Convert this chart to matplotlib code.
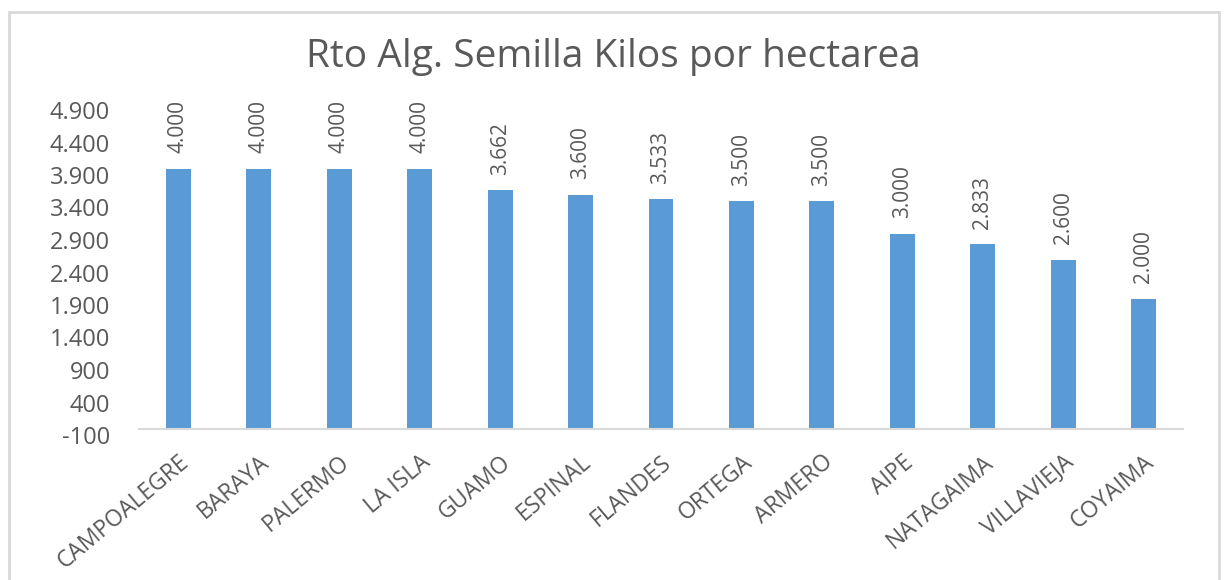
import matplotlib
matplotlib.use('Agg')
import matplotlib.pyplot as plt
from matplotlib.patches import Rectangle
from matplotlib.transforms import offset_copy

# datos
municipios = ['CAMPOALEGRE', 'BARAYA', 'PALERMO', 'LA ISLA', 'GUAMO', 'ESPINAL',
              'FLANDES', 'ORTEGA', 'ARMERO', 'AIPE', 'NATAGAIMA', 'VILLAVIEJA', 'COYAIMA']
rendimiento = [4000, 4000, 4000, 4000, 3662, 3600, 3533, 3500, 3500, 3000, 2833, 2600, 2000]
ticks_y = [-100, 400, 900, 1400, 1900, 2400, 2900, 3400, 3900, 4400, 4900]

def fmt(v):
    return f'{v:,.0f}'.replace(',', '.')

plt.rcParams['font.family'] = ['Open Sans', 'DejaVu Sans']
gris = '#595959'

fig = plt.figure(figsize=(12.27, 5.8), dpi=100)
ax = fig.add_axes([138 / 1227, 145 / 580, 1046 / 1227, 325 / 580])

x = list(range(len(municipios)))
ax.bar(x, rendimiento, width=0.31, color='#5B9BD5', zorder=2)

# etiquetas de datos
for xi, v in zip(x, rendimiento):
    ax.text(xi, v, fmt(v), rotation=90, ha='center', va='bottom',
            fontsize=15, color=gris,
            transform=offset_copy(ax.transData, fig=fig, x=0, y=11, units='points'))

ax.axhline(0, color='#D9D9D9', lw=1.5, zorder=3)
ax.set_xlim(-0.5, len(municipios) - 0.5)
ax.set_ylim(-100, 4900)
ax.set_yticks(ticks_y)
ax.set_yticklabels([fmt(t) for t in ticks_y], fontsize=17, color=gris)
ax.tick_params(axis='y', length=0, pad=20)

ax.set_xticks(x)
ax.set_xticklabels(municipios, rotation=40, ha='right', va='top',
                   rotation_mode='anchor', fontsize=16.5, color=gris)
ax.tick_params(axis='x', length=0, pad=11)

for s in ax.spines.values():
    s.set_visible(False)

fig.text(0.5, 1 - 57 / 580, 'Rto Alg. Semilla Kilos por hectarea',
         ha='center', va='center', fontsize=28, color=gris)

# marco del grafico
fig.patches.append(Rectangle((9 / 1227, -0.05), 1210 / 1227, 1.05 - 12 / 580,
                             transform=fig.transFigure, fill=False,
                             edgecolor='#D9D9D9', lw=2))

fig.savefig('out.png', dpi=100)
